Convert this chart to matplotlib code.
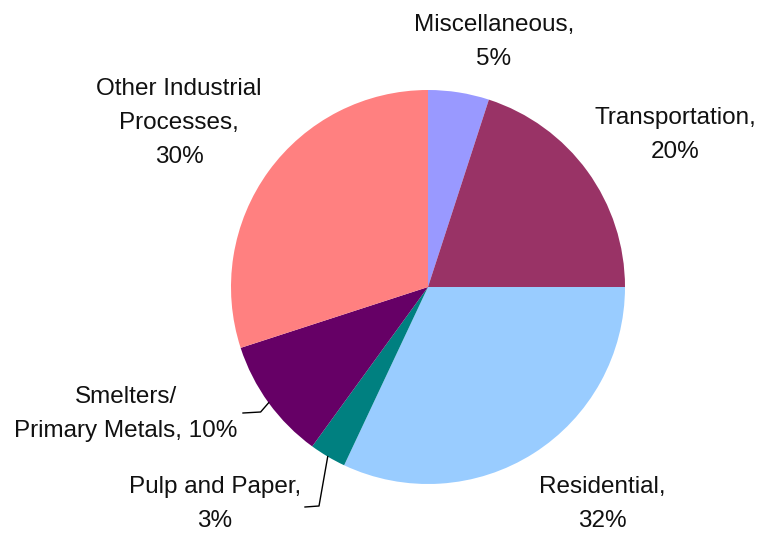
import matplotlib.pyplot as plt
import numpy as np

plt.rcParams['font.family'] = ['Liberation Sans', 'DejaVu Sans']

labels = ['Miscellaneous,\n5%', 'Transportation,\n20%', 'Residential,\n32%',
          'Pulp and Paper,\n3%', 'Smelters/\nPrimary Metals, 10%',
          'Other Industrial\nProcesses,\n30%']
shares = [5, 20, 32, 3, 10, 30]
colors = ['#9999FF', '#993366', '#99CCFF', '#008080', '#660066', '#FF8080']

W, H = 757, 533
fig = plt.figure(figsize=(W / 100, H / 100), dpi=100)
ax = fig.add_axes([0, 0, 1, 1])

cx, cy, r = 428, H - 287, 197
wedges, _ = ax.pie(shares, colors=colors, startangle=90, counterclock=False,
                   center=(cx, cy), radius=r, frame=True)
ax.set_xlim(0, W)
ax.set_ylim(0, H)
ax.set_aspect('equal')
ax.axis('off')

# label centres in pixel coords (x, y measured from top)
label_pos = [(494, 42), (675, 135), (602, 504), (215, 504), (126, 414), (179, 123)]
fs = 17.5
for txt, (lx, ly) in zip(labels, label_pos):
    ax.text(lx, H - ly, txt, ha='center', va='center', fontsize=fs,
            multialignment='center', linespacing=1.72, color='#111111')

# leader lines for the two small slices
def edge_point(i):
    w = wedges[i]
    ang = np.deg2rad((w.theta1 + w.theta2) / 2)
    return cx + r * np.cos(ang), cy + r * np.sin(ang)

x0, y0 = edge_point(4)
ax.plot([x0, x0 - 8, 243], [y0, H - 412, H - 413], color='black', lw=1)
x0, y0 = edge_point(3)
ax.plot([x0, 319, 305], [y0, H - 506, H - 507], color='black', lw=1)

fig.savefig('out.png', dpi=100)
